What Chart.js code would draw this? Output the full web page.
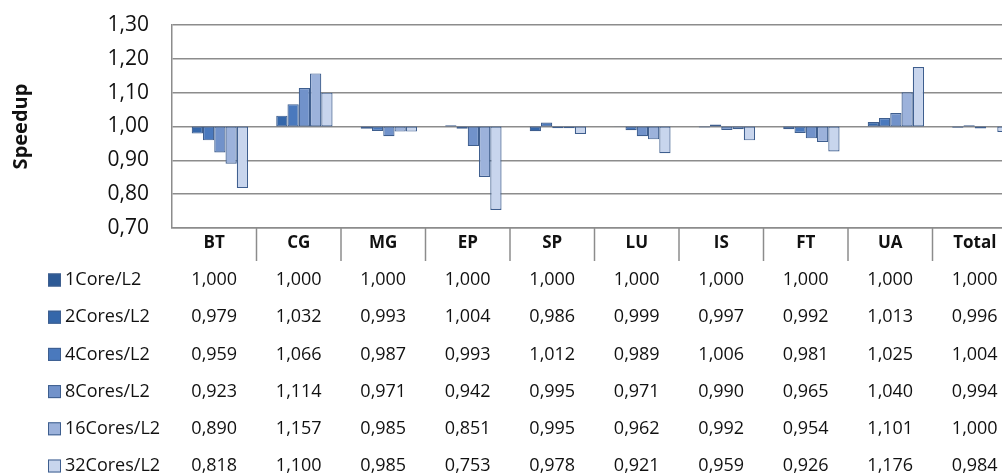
<!DOCTYPE html>
<html>
<head>
<meta charset="utf-8">
<script src="https://cdn.jsdelivr.net/npm/chart.js@4"></script>
<style>
  html, body { margin: 0; padding: 0; background: #fff; overflow: hidden; }
</style>
</head>
<body>
<canvas id="chart" width="1020" height="475"></canvas>
<script>
// categories and series
var categories = ["BT", "CG", "MG", "EP", "SP", "LU", "IS", "FT", "UA", "Total"];
var seriesNames = ["1Core/L2", "2Cores/L2", "4Cores/L2", "8Cores/L2", "16Cores/L2", "32Cores/L2"];
var core1  = [1.000, 1.000, 1.000, 1.000, 1.000, 1.000, 1.000, 1.000, 1.000, 1.000];
var core2  = [0.979, 1.032, 0.993, 1.004, 0.986, 0.999, 0.997, 0.992, 1.013, 0.996];
var core4  = [0.959, 1.066, 0.987, 0.993, 1.012, 0.989, 1.006, 0.981, 1.025, 1.004];
var core8  = [0.923, 1.114, 0.971, 0.942, 0.995, 0.971, 0.990, 0.965, 1.040, 0.994];
var core16 = [0.890, 1.157, 0.985, 0.851, 0.995, 0.962, 0.992, 0.954, 1.101, 1.000];
var core32 = [0.818, 1.100, 0.985, 0.753, 0.978, 0.921, 0.959, 0.926, 1.176, 0.984];
var baseline = 1.0;

var allSeries = [core1, core2, core4, core8, core16, core32];
var colors = ["#2D5A96", "#3567AA", "#4A79BD", "#7192CA", "#9CB2DB", "#C8D5ED"];
var borderColor = "#3E5E8E";
var gridColor = "#8C8C8C";
var textColor = "#111";
var fontName = "'Open Sans', Lato, sans-serif";

function fmt(v) {
  return v.toFixed(3).replace(".", ",");
}

// floating bars from the 1.00 baseline to each value
var datasets = allSeries.map(function(vals, i) {
  return {
    label: seriesNames[i],
    data: vals.map(function(v) { return [baseline, v]; }),
    backgroundColor: colors[i],
    borderColor: borderColor,
    borderWidth: 1.2,
    borderSkipped: false
  };
});

// data table below the axis
var tablePlugin = {
  id: "dataTable",
  afterDraw: function(chart) {
    var ctx = chart.ctx;
    var xs = chart.scales.x;
    var bottom = chart.chartArea.bottom;
    ctx.save();

    // column dividers in the header row
    ctx.strokeStyle = gridColor;
    ctx.lineWidth = 1.5;
    for (var c = 1; c < categories.length; c++) {
      var xd = (xs.getPixelForValue(c - 1) + xs.getPixelForValue(c)) / 2;
      ctx.beginPath();
      ctx.moveTo(xd, bottom);
      ctx.lineTo(xd, bottom + 33);
      ctx.stroke();
    }

    var rowTop = 280;
    var rowStep = 37.2;
    ctx.textBaseline = "middle";
    ctx.font = "18px " + fontName;
    for (var r = 0; r < allSeries.length; r++) {
      var y = rowTop + r * rowStep;
      // legend key
      ctx.fillStyle = colors[r];
      ctx.fillRect(48, y - 6.5, 13, 13);
      ctx.strokeStyle = borderColor;
      ctx.lineWidth = 1;
      ctx.strokeRect(48.5, y - 6, 12, 12);
      ctx.fillStyle = textColor;
      ctx.textAlign = "left";
      ctx.fillText(seriesNames[r], 65, y);
      // values
      ctx.textAlign = "center";
      for (var k = 0; k < categories.length; k++) {
        ctx.fillText(fmt(allSeries[r][k]), xs.getPixelForValue(k), y);
      }
    }
    ctx.restore();
  }
};

new Chart(document.getElementById("chart"), {
  type: "bar",
  data: { labels: categories, datasets: datasets },
  plugins: [tablePlugin],
  options: {
    responsive: false,
    animation: false,
    devicePixelRatio: 1,
    layout: { autoPadding: false, padding: { top: 25, left: 0, right: 3, bottom: 0 } },
    datasets: { bar: { categoryPercentage: 0.8, barPercentage: 1.0 } },
    plugins: {
      legend: { display: false },
      tooltip: { enabled: false }
    },
    scales: {
      x: {
        afterFit: function(s) { s.height = 247; },
        grid: { display: false, drawTicks: false },
        border: { display: true, color: gridColor, width: 1.5 },
        ticks: {
          padding: 5,
          color: textColor,
          font: { family: fontName, size: 17, weight: "bold" }
        }
      },
      y: {
        min: 0.7,
        max: 1.3,
        afterFit: function(s) {
          s.width = 172;
          // tick padding would otherwise push the plot top down
          s.paddingTop = 0;
          s.paddingBottom = 0;
        },
        grid: { color: gridColor, lineWidth: 1.5, drawTicks: false },
        border: { display: true, color: gridColor, width: 1.5 },
        ticks: {
          stepSize: 0.1,
          padding: 23,
          color: textColor,
          font: { family: fontName, size: 21 },
          callback: function(v) { return v.toFixed(2).replace(".", ","); }
        },
        title: {
          display: true,
          text: "Speedup",
          color: textColor,
          padding: { top: 9, bottom: 0 },
          font: { family: fontName, size: 20, weight: "bold" }
        }
      }
    }
  }
});
</script>
</body>
</html>
